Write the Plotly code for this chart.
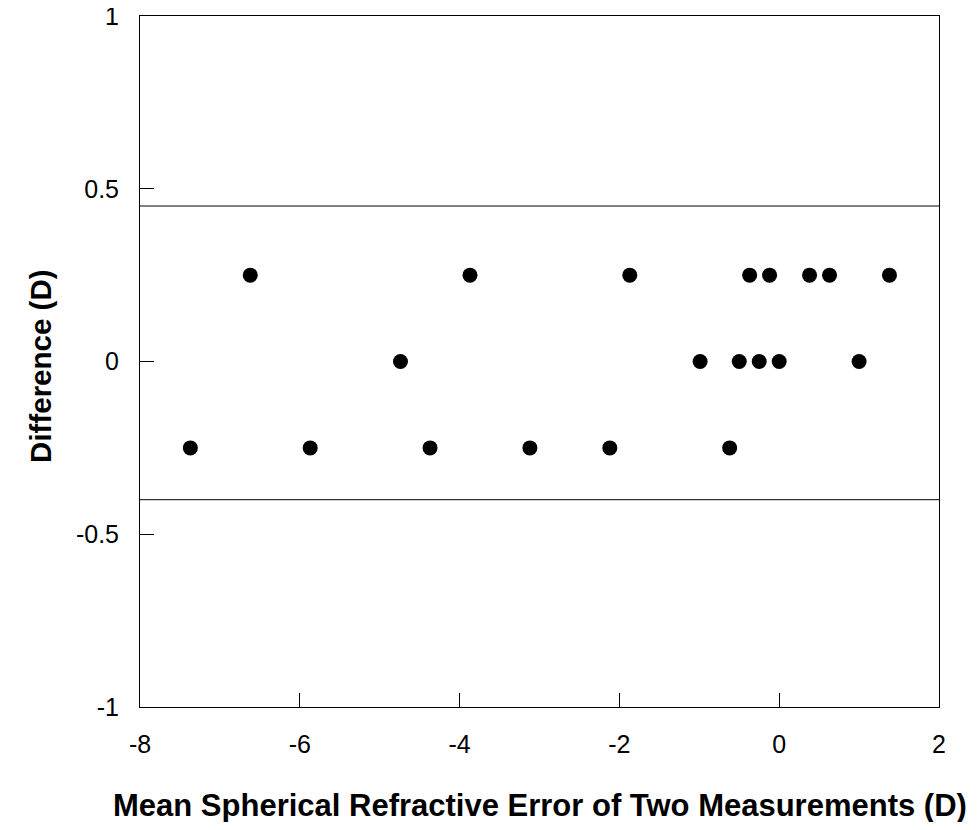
import plotly.graph_objects as go

# Bland-Altman style data
mean_refraction = [-7.37, -6.62, -5.87, -4.74, -4.37, -3.87, -3.12, -2.12, -1.87,
                   -0.99, -0.62, -0.50, -0.37, -0.25, -0.12, 0.0, 0.38, 0.63, 1.0, 1.38]
difference = [-0.25, 0.25, -0.25, 0.0, -0.25, 0.25, -0.25, -0.25, 0.25,
              0.0, -0.25, 0.0, 0.25, 0.0, 0.25, 0.0, 0.25, 0.25, 0.0, 0.25]
limits = [0.45, -0.40]

x_ticks = [-8, -6, -4, -2, 0, 2]
x_tick_labels = ['-8', '-6', '-4', '-2', '0', '2']
y_ticks = [-1, -0.5, 0, 0.5, 1]
y_tick_labels = ['-1', '-0.5', '0', '0.5', '1']

fig = go.Figure()

fig.add_trace(go.Scatter(
    x=mean_refraction,
    y=difference,
    mode='markers',
    marker=dict(color='black', size=15),
    showlegend=False
))

for lim in limits:
    fig.add_shape(type='line', xref='x', yref='y', x0=-8, x1=2, y0=lim, y1=lim,
                  line=dict(color='black', width=1))

axis_style = dict(
    ticks='inside',
    ticklen=14,
    tickcolor='black',
    showline=True,
    linecolor='black',
    linewidth=1,
    mirror=True,
    showgrid=False,
    zeroline=False,
    automargin=False,
    ticklabeloverflow='allow',
    tickfont=dict(size=25),
)

fig.update_layout(
    template='none',
    width=962,
    height=814,
    margin=dict(l=132, r=31, t=8, b=115),
    plot_bgcolor='white',
    paper_bgcolor='white',
    font=dict(family='Liberation Sans, Arial, sans-serif', color='black'),
    xaxis=dict(range=[-8, 2], tickvals=x_ticks, ticktext=x_tick_labels,
               ticklabelstandoff=15, **axis_style),
    yaxis=dict(range=[-1, 1], tickvals=y_ticks, ticktext=y_tick_labels,
               ticklabelstandoff=15, **axis_style),
    showlegend=False,
)

# axis titles as annotations so they sit where the original puts them
fig.add_annotation(text='<b>Mean Spherical Refractive Error of Two Measurements (D)</b>',
                   xref='paper', yref='paper', x=0.5, y=-0.143,
                   xanchor='center', yanchor='middle', showarrow=False,
                   font=dict(size=31), borderpad=0)
fig.add_annotation(text='<b>Difference (D)</b>', textangle=-90,
                   xref='paper', yref='paper', x=-0.124, y=0.4935,
                   xanchor='center', yanchor='middle', showarrow=False,
                   font=dict(size=29.5), borderpad=0)

fig.write_html('out.html')
